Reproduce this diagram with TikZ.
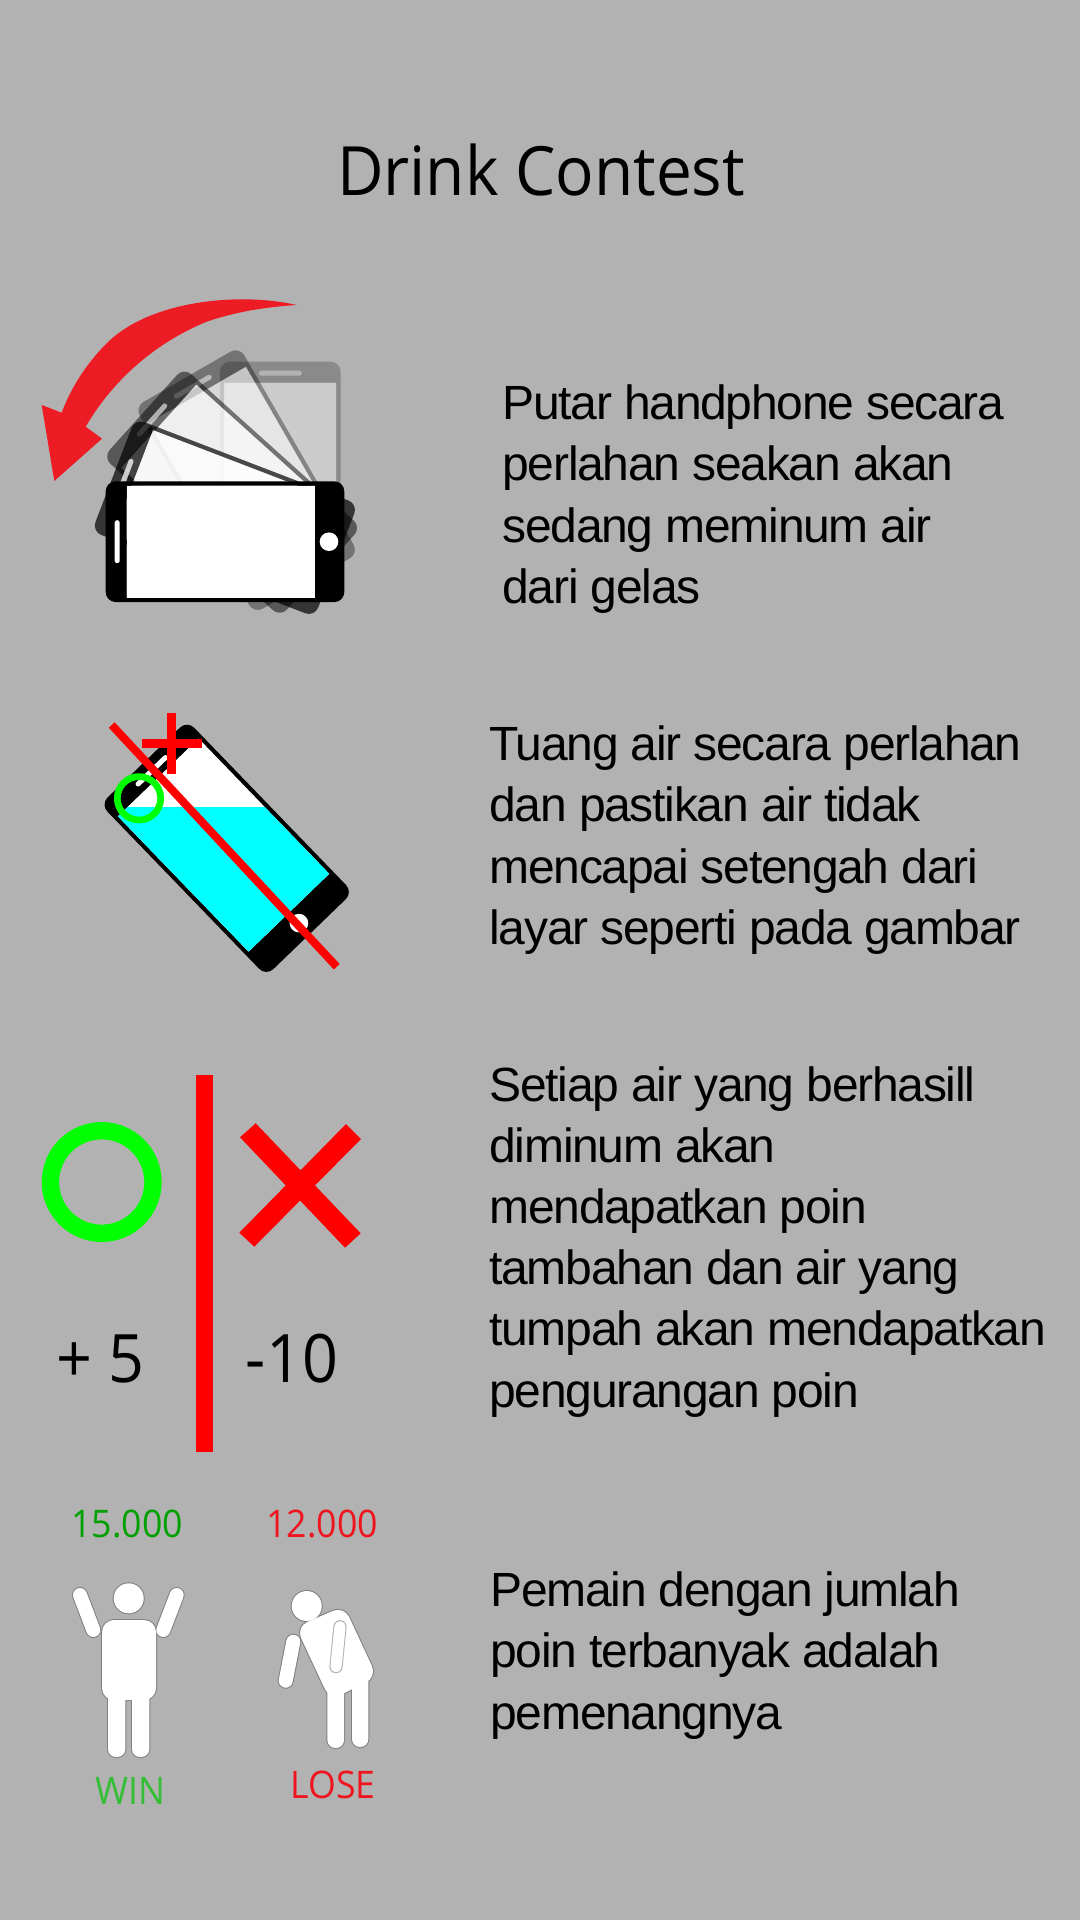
\documentclass[tikz,border=0pt]{standalone}
\usepackage{fontspec}
\setmainfont{Liberation Sans}
\newfontfamily\bodyf[LetterSpace=-2.6]{Liberation Sans}
\newfontfamily\myr[FakeStretch=0.94]{Open Sans}
\definecolor{bgc}{HTML}{B2B2B2}
\definecolor{arrowred}{HTML}{ED1C24}
\definecolor{pure}{HTML}{FF0000}
\definecolor{lime}{HTML}{00FF00}
\definecolor{aqua}{HTML}{00FFFF}
\definecolor{wingreen}{HTML}{00A000}
\definecolor{winlabel}{HTML}{33BE33}
\definecolor{losered}{HTML}{F0141E}
\tikzset{
  para/.style={anchor=north west,inner sep=0pt,align=left,font=\bodyf\fontsize{24pt}{30.6pt}\selectfont},
  big/.style={anchor=base,inner sep=0pt,font=\myr\fontsize{33.4pt}{38pt}\selectfont},
  small/.style={anchor=base,inner sep=0pt,font=\myr\fontsize{19pt}{23pt}\selectfont},
}
% phone centred on the origin of the current scope
\newcommand{\phonebody}[2]{%
  \fill[black,fill opacity=#1,even odd rule,rounded corners=5pt]
    (-60.35,-119.3) rectangle (60.35,119.3)
    [sharp corners] (-56,-98.5) rectangle (56,89.5);
  \fill[white,fill opacity=#2] (-56,-98.5) rectangle (56,89.5);
  \fill[white,fill opacity=#2,rounded corners=1.2pt] (-21.5,-110.3) rectangle (21.5,-105.3);
  \fill[white,fill opacity=#2] (0,104) circle (9.3);
}
\newcommand{\figs}{%
  % winner
  \path[blob] (128.7,1598.3) circle (15);
  \path[blob,rounded corners=6pt] (102,1620) rectangle (156,1700);
  \path[blob,rounded corners=4pt] (108,1670) rectangle (125.3,1757);
  \path[blob,rounded corners=4pt] (132,1670) rectangle (149.3,1757);
  \path[blob] (118,1690) rectangle (140,1700);
  \draw[limb] (80,1595) -- (93.3,1630);
  \draw[limb] (176.7,1595) -- (163.3,1630);
  % loser
  \path[blob] (306.7,1606) circle (15);
  \path[blob,rounded corners=6pt] (296,1627) -- (344,1606) -- (377,1677) -- (330,1700) -- cycle;
  \path[blob,rounded corners=4pt] (327.3,1660) rectangle (344,1748);
  \path[blob,rounded corners=4pt] (352,1660) rectangle (368.3,1747);
  \draw[limb] (293.3,1641.7) -- (285.7,1680.7);
}
\begin{document}
\begin{tikzpicture}[x=0.5pt,y=-0.5pt]
\useasboundingbox (0,0) rectangle (1080,1920);
\fill[bgc] (0,0) rectangle (1080,1920);

\node[anchor=base,inner sep=0pt,font=\myr\fontsize{34pt}{40pt}\selectfont] (title) at (541,195.5) {Drink Contest};

% ---- rotating phones
\foreach \ang/\dx/\dy/\ba/\wa in {0/0/0/0.22/0.35, 30/-5/-10/0.35/0.5, 48/-6/-10/0.5/0.6, 69/-3/-3/0.7/0.75, 90/0/0/1/1}{
  \begin{scope}[shift={(\dx,\dy)},rotate around={\ang:(283,539)},shift={(280.3,481)}]
    \phonebody{\ba}{\wa}
  \end{scope}
}
\fill[arrowred] (296.7,305) .. controls (240,292) and (150,300) .. (106.7,343.3)
  .. controls (85,365) and (70,390) .. (61.7,412.7) -- (41.7,405) -- (54.3,481) -- (102,438.7) -- (85.7,426.7)
  .. controls (110,385) and (150,345) .. (206.7,321.7) .. controls (235,312) and (265,307) .. (296.7,305) -- cycle;

\node[para] (p1) at (502,384.5) {Putar handphone secara\\perlahan seakan akan\\sedang meminum air\\dari gelas};

% ---- tilted phone with water
\begin{scope}[shift={(226.7,848.3)},rotate=44]
  \phonebody{1}{1}
  \begin{scope}
    \clip (-56,-98.5) rectangle (56,89.5);
    \begin{scope}[rotate=-44]
      \fill[aqua] (-300,-41) rectangle (300,300);
    \end{scope}
  \end{scope}
\end{scope}
\draw[pure,line width=4pt] (111.7,725) -- (336.7,966.7);
\draw[pure,line width=4.3pt] (171.7,713.3) -- (171.7,774);
\draw[pure,line width=4.3pt] (141.7,743.3) -- (202.3,743.3);
\draw[lime,line width=3.35pt] (139,798.3) circle (21.7);

\node[para] (p2) at (489,725.5) {Tuang air secara perlahan\\dan pastikan air tidak\\mencapai setengah dari\\layar seperti pada gambar};

% ---- scoring
\fill[pure] (196.3,1075) rectangle (213.3,1452);
\draw[lime,line width=8.67pt] (101.7,1182) circle (51.3);
\fill[pure] (255.7,1123.3) -- (240,1137.3) -- (345,1247.7) -- (360.7,1233.3) -- cycle;
\fill[pure] (346,1124) -- (361,1139) -- (254.3,1246.7) -- (239.3,1232.7) -- cycle;
\node[big] (plus) at (100.8,1382.7) {+ 5};
\node[big] (minus) at (292,1382.7) {-10};

\node[para] (p3) at (489,1066) {Setiap air yang berhasill\\diminum akan\\mendapatkan poin\\tambahan dan air yang\\tumpah akan mendapatkan\\pengurangan poin};

% ---- winner and loser
\node[small,text=wingreen] (s1) at (127.3,1537.7) {15.000};
\node[small,text=losered] (s2) at (322.2,1537.7) {12.000};
\begin{scope}
  \tikzset{blob/.style={fill=gray,draw=gray,line width=1pt},limb/.style={gray,line width=8pt,line cap=round}}
  \figs
\end{scope}
\begin{scope}
  \tikzset{blob/.style={fill=white},limb/.style={white,line width=7pt,line cap=round}}
  \figs
\end{scope}
\draw[line width=6.6pt,line cap=round,gray!60] (340,1626.7) -- (336,1666.7);
\draw[line width=5.6pt,line cap=round,white] (340,1626.7) -- (336,1666.7);
\node[small,text=winlabel] (win) at (130,1804) {WIN};
\node[small,text=losered] (lose) at (333,1798) {LOSE};

\node[para] (p4) at (490,1571.5) {Pemain dengan jumlah\\poin terbanyak adalah\\pemenangnya};
\end{tikzpicture}
\end{document}
